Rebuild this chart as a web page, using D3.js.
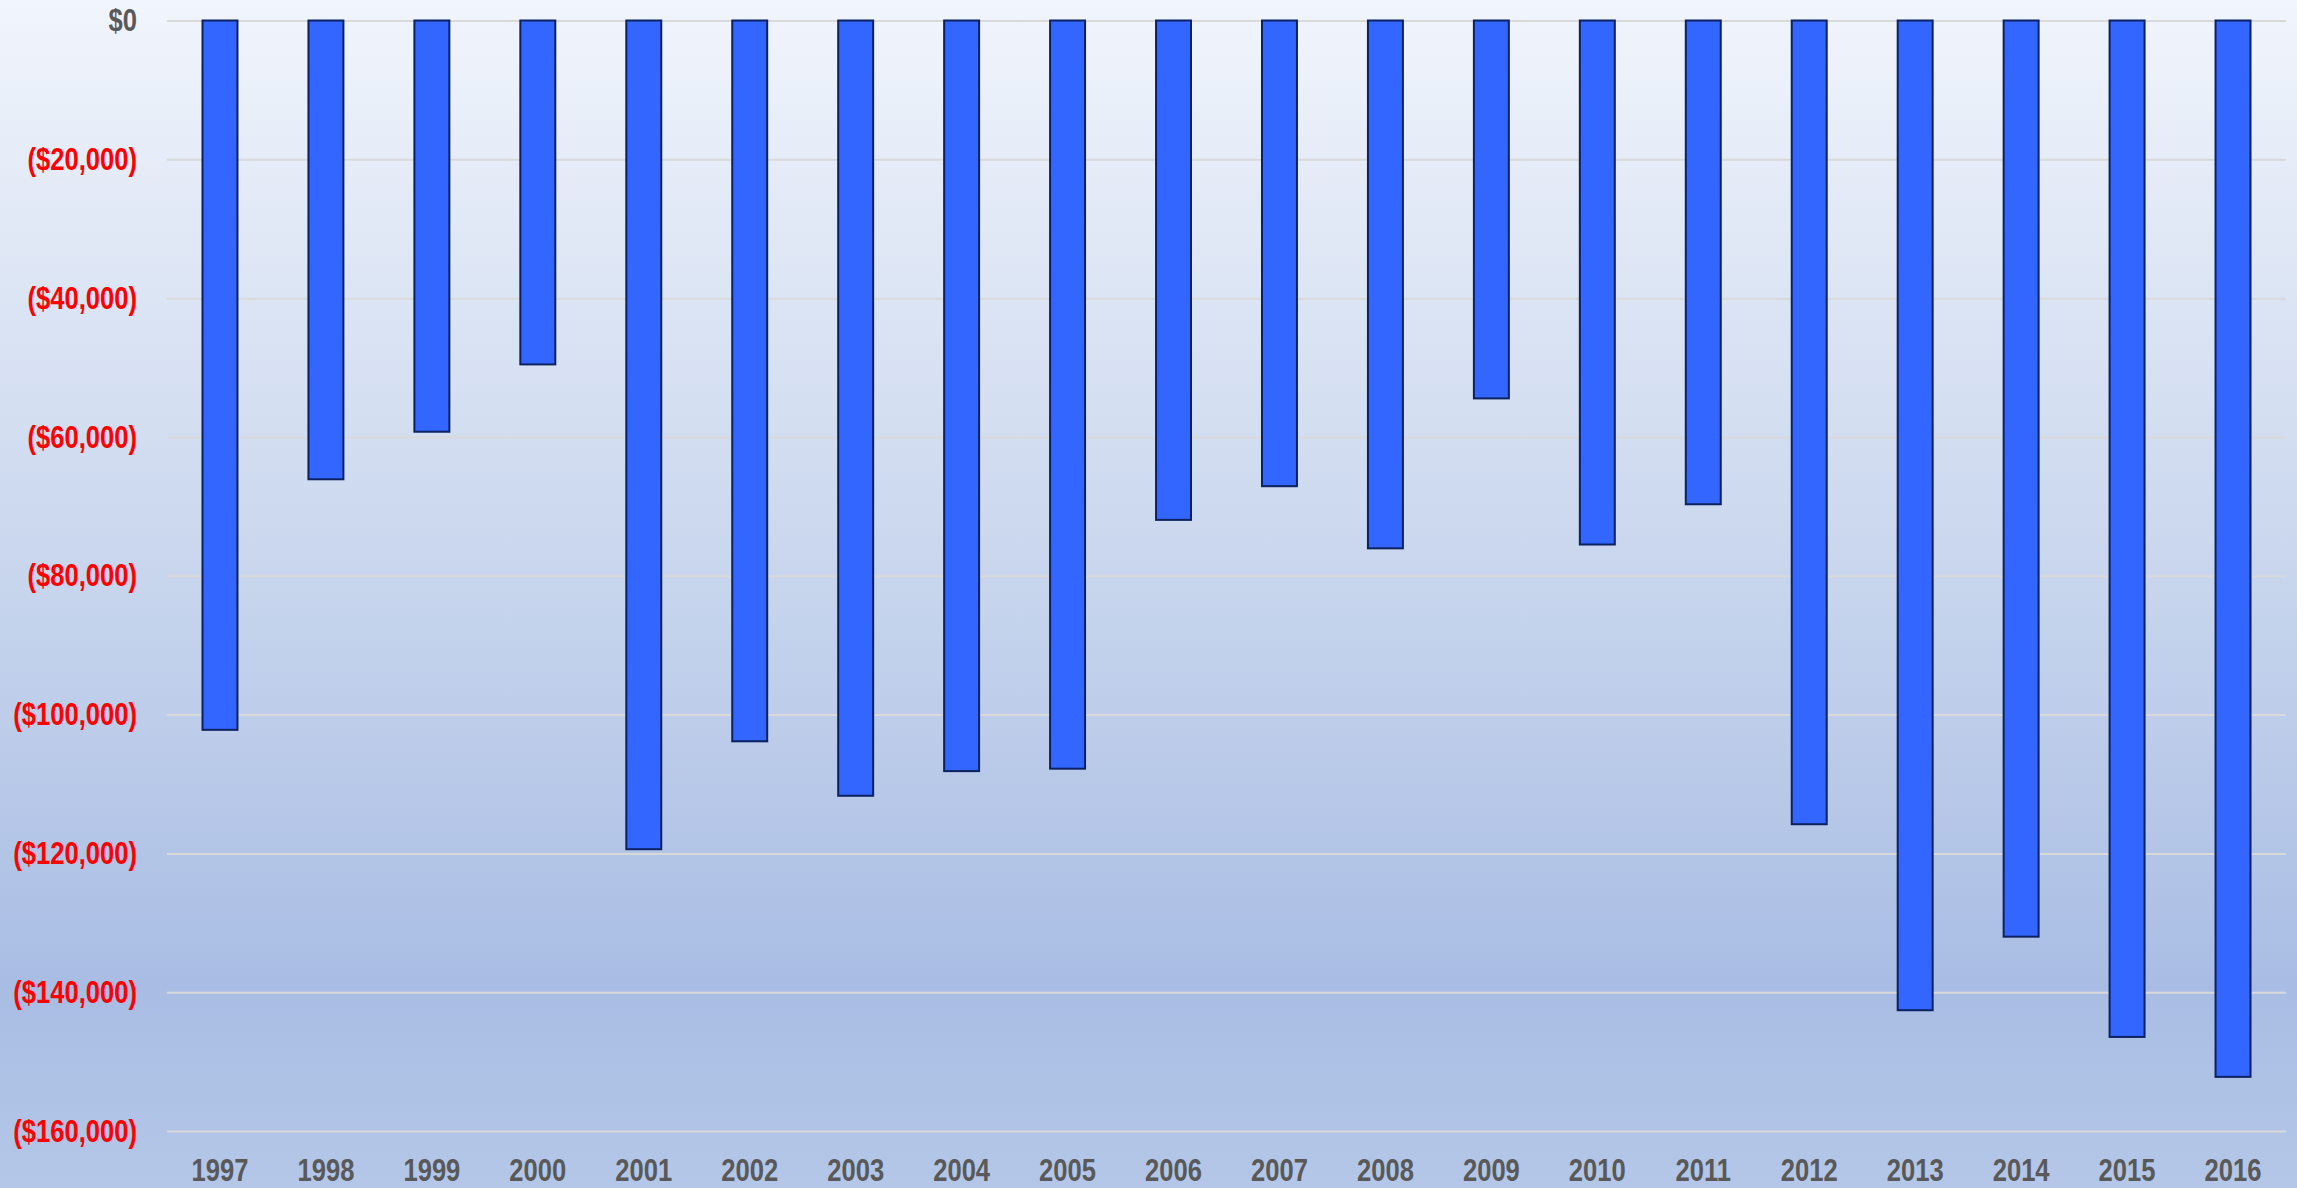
<!DOCTYPE html>
<html>
<head>
<meta charset="utf-8">
<script src="https://cdn.jsdelivr.net/npm/d3@7"></script>
<style>
  html, body { margin: 0; padding: 0; overflow: hidden; }
  svg { display: block; }
  .axis text { font-family: 'Liberation Sans', Arial, sans-serif; font-weight: bold; font-size: 32px; }
</style>
</head>
<body>
<div id="chart"></div>
<script>

const years = ['1997', '1998', '1999', '2000', '2001', '2002', '2003', '2004', '2005', '2006',
               '2007', '2008', '2009', '2010', '2011', '2012', '2013', '2014', '2015', '2016']

const netValues = [-102200, -66100, -59250, -49550, -119400, -103850, -111700, -108150, -107800, -71950,
                   -67100, -76050, -54450, -75500, -69700, -115800, -142600, -132000, -146450, -152200]

const yTicks = [0, -20000, -40000, -60000, -80000, -100000, -120000, -140000, -160000]


const W = 2297, H = 1188
const margin = { top: 20.5, right: 11, bottom: 57, left: 167 }
const width = W - margin.left - margin.right
const height = H - margin.top - margin.bottom

// no narrow font installed, so squeeze the bold face horizontally
const squeeze = 0.8

const svg = d3.select('#chart').append('svg')
  .attr('width', W)
  .attr('height', H)

// background gradient

const grad = svg.append('defs').append('linearGradient')
  .attr('id', 'bg')
  .attr('x1', 0).attr('y1', 0).attr('x2', 0).attr('y2', 1)
grad.append('stop').attr('offset', '0%').attr('stop-color', '#f1f5fc')
grad.append('stop').attr('offset', '45%').attr('stop-color', '#cbd8ee')
grad.append('stop').attr('offset', '83%').attr('stop-color', '#a9bde4')
grad.append('stop').attr('offset', '100%').attr('stop-color', '#b4c7e8')

svg.append('rect')
  .attr('width', W)
  .attr('height', H)
  .attr('fill', 'url(#bg)')

const chart = svg.append('g')
  .attr('transform', 'translate(' + margin.left + ',' + margin.top + ')')

// Scales

const x = d3.scaleBand()
  .domain(years)
  .range([0, width])
  .paddingInner(0.67)
  .paddingOuter(0.335)

const y = d3.scaleLinear()
  .domain([-160000, 0])
  .range([height, 0])

const fmt = d3.format(',')
const money = v => v === 0 ? '$0' : (v < 0 ? '($' + fmt(-v) + ')' : '$' + fmt(v))

// Axes

chart.append('g')
  .attr('class', 'y axis')
  .call(d3.axisLeft(y).tickValues(yTicks).tickSize(-width).tickPadding(30).tickFormat(money))
  .call(g => {
    g.select('.domain').remove()
    g.selectAll('.tick line')
      .attr('stroke', '#d9d9d9')
      .attr('stroke-width', 2)
    g.selectAll('.tick text')
      .attr('fill', d => d < 0 ? '#ff0000' : '#595959')
      .attr('x', -30 / squeeze)
      .attr('transform', 'scale(' + squeeze + ',1)')
  })

chart.append('g')
  .attr('class', 'x axis')
  .attr('transform', 'translate(0,' + height + ')')
  .call(d3.axisBottom(x).tickSize(0).tickPadding(27))
  .call(g => {
    g.select('.domain').remove()
    g.selectAll('.tick text')
      .attr('fill', '#595959')
      .attr('transform', 'scale(' + squeeze + ',1)')
  })

// Bars

chart.selectAll('.bar')
  .data(netValues)
  .enter().append('rect')
    .attr('class', 'bar')
    .attr('x', (d, i) => x(years[i]))
    .attr('y', d => y(Math.max(0, d)))
    .attr('width', x.bandwidth())
    .attr('height', d => Math.abs(y(d) - y(0)))
    .attr('fill', '#3366ff')
    .attr('stroke', '#0c2160')
    .attr('stroke-width', 2)

</script>
</body>
</html>
